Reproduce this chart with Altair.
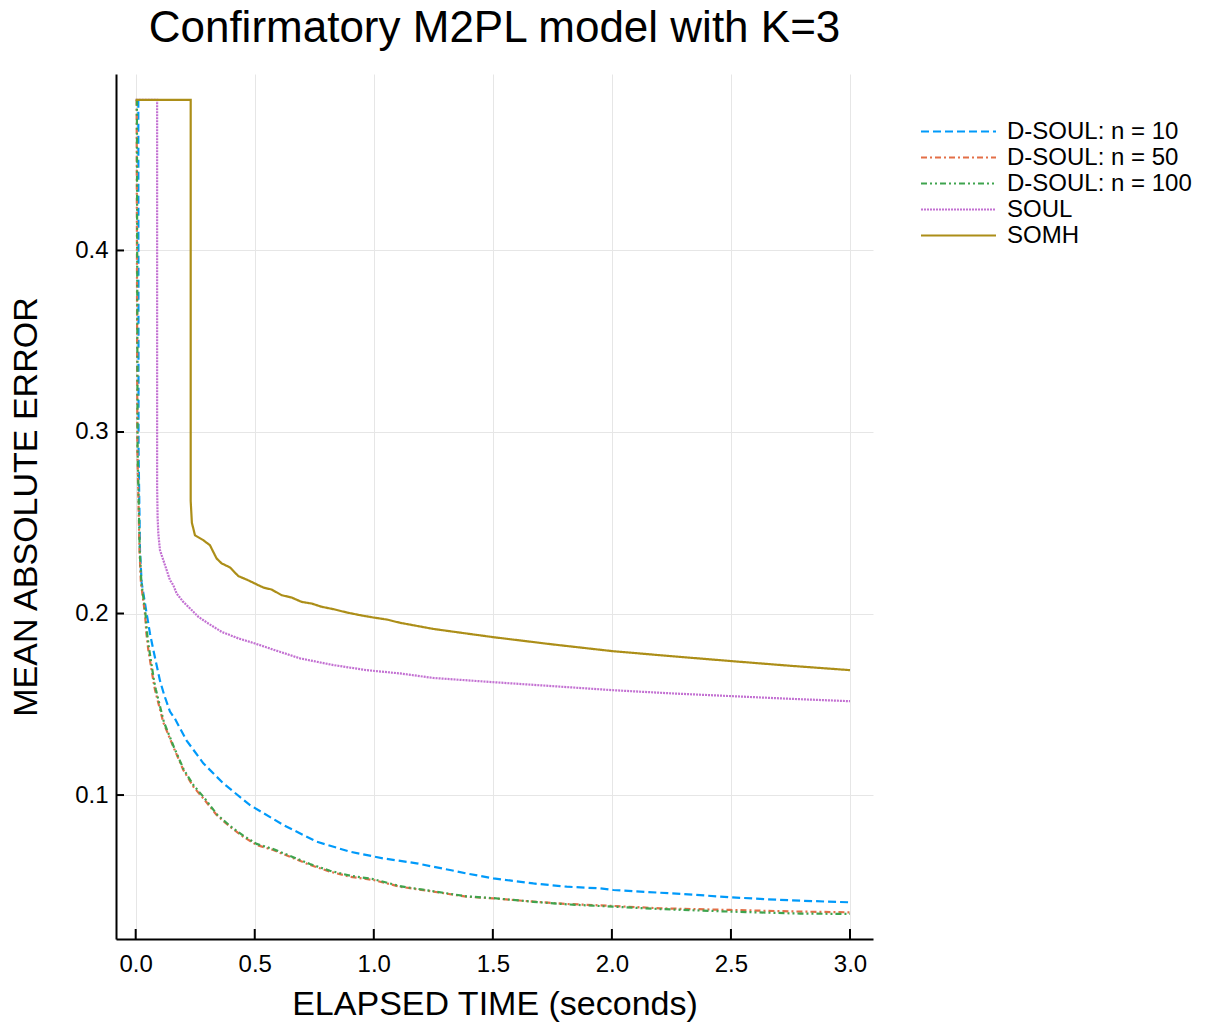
import altair as alt
import pandas as pd

# ---------------- data ----------------
series_names = ["D-SOUL: n = 10", "D-SOUL: n = 50", "D-SOUL: n = 100", "SOUL", "SOMH"]
series_colors = ["#009AFA", "#E36F47", "#3EA44E", "#C371D2", "#AC8E18"]
series_dashes = [[8, 4], [6, 3, 2, 3], [6, 3, 2, 3, 2, 3], [2, 1], [1, 0]]

blue_t = [0.011, 0.012, 0.018, 0.025, 0.046, 0.060, 0.074, 0.102, 0.120, 0.144, 0.165, 0.214, 0.242, 0.284,
          0.368, 0.480, 0.620, 0.760, 0.900, 1.040, 1.180, 1.250, 1.320, 1.390, 1.502, 1.670, 1.810, 1.950,
          2.006, 2.202, 2.300, 2.496, 2.650, 2.790, 3.000]
blue_v = [0.483, 0.290, 0.235, 0.217, 0.200, 0.189, 0.180, 0.163, 0.155, 0.146, 0.142, 0.130, 0.125, 0.1175,
          0.1064, 0.0945, 0.0835, 0.0743, 0.0688, 0.0651, 0.0624, 0.0605, 0.0587, 0.0568, 0.0541, 0.0513, 0.0495,
          0.0486, 0.0477, 0.0462, 0.0455, 0.0437, 0.0426, 0.0418, 0.0409]

red_t = [0.004, 0.007, 0.016, 0.022, 0.039, 0.045, 0.053, 0.074, 0.081, 0.116, 0.158, 0.200, 0.242, 0.284,
         0.340, 0.396, 0.452, 0.508, 0.578, 0.648, 0.732, 0.816, 0.900, 0.998, 1.110, 1.250, 1.390, 1.502,
         1.670, 1.810, 2.006, 2.202, 2.496, 2.790, 3.000]
red_v = [0.483, 0.290, 0.235, 0.217, 0.200, 0.189, 0.180, 0.163, 0.158, 0.140, 0.1266, 0.1138, 0.1046, 0.0982,
         0.0890, 0.0825, 0.0770, 0.0725, 0.0697, 0.0660, 0.0615, 0.0578, 0.0550, 0.0532, 0.0495, 0.0468, 0.0440,
         0.0431, 0.0413, 0.0400, 0.0389, 0.0376, 0.0367, 0.0358, 0.0354]

green_t = [0.005, 0.008, 0.017, 0.024, 0.041, 0.048, 0.057, 0.077, 0.085, 0.119, 0.160, 0.202, 0.245, 0.288,
           0.340, 0.396, 0.452, 0.508, 0.578, 0.648, 0.732, 0.816, 0.900, 0.998, 1.110, 1.250, 1.390, 1.502,
           1.670, 1.810, 2.006, 2.202, 2.496, 2.790, 3.000]
green_v = [0.483, 0.290, 0.235, 0.217, 0.200, 0.189, 0.180, 0.163, 0.158, 0.140, 0.1266, 0.1140, 0.1050, 0.0985,
           0.0895, 0.0830, 0.0776, 0.0731, 0.0702, 0.0665, 0.0620, 0.0583, 0.0556, 0.0537, 0.0498, 0.0470, 0.0442,
           0.0432, 0.0412, 0.0398, 0.0385, 0.0372, 0.0358, 0.0347, 0.0345]

soul_t = [0.0, 0.090, 0.090, 0.092, 0.095, 0.102, 0.116, 0.130, 0.144, 0.158, 0.172, 0.200, 0.235, 0.263,
          0.305, 0.361, 0.431, 0.501, 0.585, 0.690, 0.830, 0.970, 1.110, 1.250, 1.500, 1.750, 2.000, 2.250,
          2.500, 2.750, 3.000]
soul_v = [0.483, 0.483, 0.270, 0.2532, 0.2441, 0.2349, 0.2294, 0.2239, 0.2184, 0.2156, 0.2110, 0.2064, 0.2019,
          0.1982, 0.1945, 0.1899, 0.1863, 0.1835, 0.1798, 0.1753, 0.1716, 0.1688, 0.1670, 0.1645, 0.1622, 0.1600,
          0.1578, 0.1560, 0.1545, 0.1530, 0.1517]

somh_t = [0.0, 0.231, 0.231, 0.236, 0.249, 0.284, 0.312, 0.326, 0.340, 0.361, 0.396, 0.431, 0.466, 0.501,
          0.536, 0.571, 0.613, 0.655, 0.697, 0.739, 0.781, 0.830, 0.886, 0.942, 0.998, 1.054, 1.110, 1.250,
          1.500, 1.750, 2.000, 2.250, 2.500, 2.750, 3.000]
somh_v = [0.483, 0.483, 0.262, 0.250, 0.2431, 0.2404, 0.2376, 0.2339, 0.2303, 0.2276, 0.2254, 0.2206, 0.2187,
          0.2165, 0.2143, 0.2132, 0.2101, 0.2088, 0.2064, 0.2055, 0.2037, 0.2024, 0.2006, 0.1991, 0.1978, 0.1967,
          0.1949, 0.1915, 0.1870, 0.1830, 0.1793, 0.1765, 0.1738, 0.1712, 0.1688]

x_ticks = [0.0, 0.5, 1.0, 1.5, 2.0, 2.5, 3.0]
y_ticks = [0.1, 0.2, 0.3, 0.4]

# ---------------- build table ----------------
rows = []
for name, ts, vs in zip(series_names,
                        [blue_t, red_t, green_t, soul_t, somh_t],
                        [blue_v, red_v, green_v, soul_v, somh_v]):
    for i, (t, v) in enumerate(zip(ts, vs)):
        rows.append({"series": name, "t": t, "v": v, "idx": i})
df = pd.DataFrame(rows)

FONT = "Liberation Sans"
W, H = 757, 865
x_dom = [-0.0827, 3.0966]
y_dom = [0.0207, 0.4972]

xscale = alt.Scale(domain=x_dom, nice=False, zero=False)
yscale = alt.Scale(domain=y_dom, nice=False, zero=False)

lines = alt.Chart(df).mark_line(strokeWidth=2.2, clip=True).encode(
    x=alt.X("t:Q", scale=xscale,
            axis=alt.Axis(title="ELAPSED TIME (seconds)", values=x_ticks, format=".1f",
                          ticks=False, labelPadding=13, titleBaseline="alphabetic", titleY=75)),
    y=alt.Y("v:Q", scale=yscale,
            axis=alt.Axis(title="MEAN ABSOLUTE ERROR", values=y_ticks, format=".1f",
                          ticks=False, labelPadding=8, titleBaseline="alphabetic", titleX=-80,
                          titleAngle=270)),
    color=alt.Color("series:N", scale=alt.Scale(domain=series_names, range=series_colors), title=None),
    strokeDash=alt.StrokeDash("series:N", scale=alt.Scale(domain=series_names, range=series_dashes), title=None),
    order="idx:Q",
)

xt = pd.DataFrame({"t": x_ticks})
yt = pd.DataFrame({"v": y_ticks})

xtick_rules = alt.Chart(xt).mark_rule(color="black", strokeWidth=2).encode(
    x=alt.X("t:Q", scale=xscale),
    y=alt.value(H),
    y2=alt.value(H - 10),
)
ytick_rules = alt.Chart(yt).mark_rule(color="black", strokeWidth=2).encode(
    y=alt.Y("v:Q", scale=yscale),
    x=alt.value(0),
    x2=alt.value(8),
)

chart = alt.layer(lines, xtick_rules, ytick_rules).properties(
    width=W, height=H,
    autosize=alt.AutoSizeParams(type="none"),
    padding={"left": 116, "top": 74, "right": 1208 - 116 - W, "bottom": 1024 - 74 - H},
    title=alt.Title("Confirmatory M2PL model with K=3", fontSize=44, font=FONT, fontWeight="normal",
                    anchor="middle", baseline="alphabetic", offset=32, dy=44, color="black"),
    background="white",
).configure_view(stroke=None).configure_axis(
    labelFont=FONT, titleFont=FONT, labelFontSize=24, titleFontSize=34, titleFontWeight="normal",
    labelColor="black", titleColor="black", domainColor="black", domainWidth=2,
    gridColor="#e6e6e6", gridWidth=1,
).configure_legend(
    orient="none", legendX=829, legendY=44, padding=0,
    symbolType="M-3,0H3", symbolSize=625, symbolStrokeWidth=2,
    labelFont=FONT, labelFontSize=24, labelColor="black", labelOffset=35, labelLimit=400, rowPadding=0,
)

chart.save("out.html", embed_options={"renderer": "svg", "actions": False})
